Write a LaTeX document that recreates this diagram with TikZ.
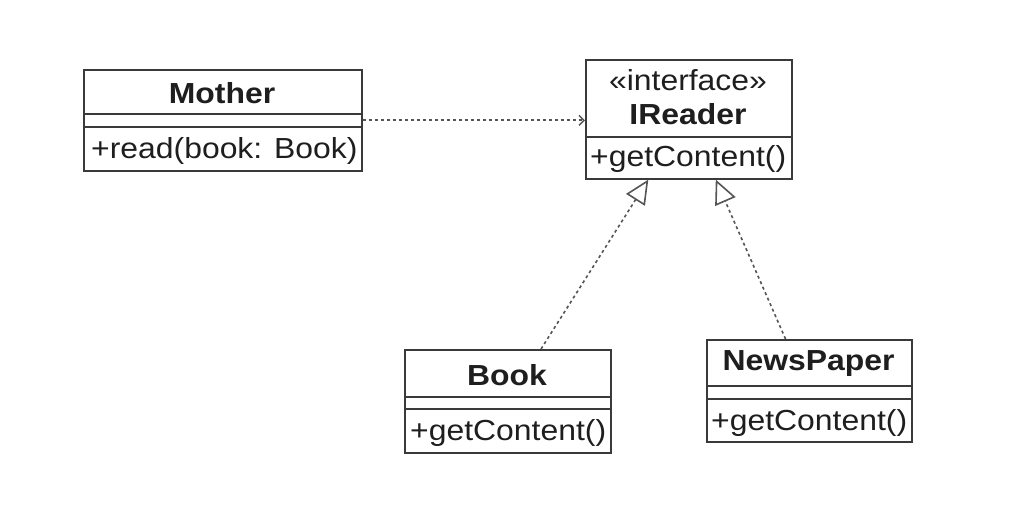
\documentclass[tikz,border=0pt]{standalone}
\usepackage{fontspec}
\setmainfont{Liberation Sans}[FakeStretch=1.1]
\usetikzlibrary{arrows.meta,calc}
\definecolor{boxline}{HTML}{3A3A3A}
\definecolor{dashline}{HTML}{555555}
\definecolor{txt}{HTML}{1E1E1E}
\tikzset{
  umlbox/.style={draw=boxline, line width=1.6pt, fill=white, anchor=north west, inner sep=0pt},
  divider/.style={draw=boxline, line width=1.6pt},
  titletext/.style={font=\fontsize{29}{33}\selectfont\bfseries, text=txt, inner sep=0pt},
  stereotext/.style={font=\fontsize{29}{33}\selectfont, text=txt, inner sep=0pt},
  methodtext/.style={font=\fontsize{29}{33}\selectfont, text=txt, inner sep=0pt, anchor=west},
  realize/.style={draw=dashline, line width=1.6pt, dash pattern=on 3pt off 3pt,
    -{Triangle[open, length=24pt, width=22pt, line width=1.6pt, fill=white]}},
  depend/.style={draw=dashline, line width=1.6pt, dash pattern=on 3pt off 3pt,
    -{Straight Barb[length=5pt, width=10pt, line width=1.4pt]}}
}
\begin{document}
\begin{tikzpicture}[x=1pt, y=-1pt]
\useasboundingbox[fill=white] (0,0) rectangle (1012,508);

% Mother
\node[umlbox, minimum width=278pt, minimum height=101pt] (mother) at (83,69) {};
\draw[divider] (83,114) -- (361,114);
\draw[divider] (83,127) -- (361,127);
\node[titletext] (mothertitle) at (222,93) {Mother};
\node[methodtext] (mothermeth) at (91,151) {+read(book: Book)};

% IReader
\node[umlbox, minimum width=206pt, minimum height=119pt] (ireader) at (585,59) {};
\draw[divider] (585,137) -- (791,137);
\node[stereotext] (irstereo) at (688,80) {«interface»};
\node[titletext] (irtitle) at (688,114) {IReader};
\node[methodtext] (irmeth) at (590,159) {+getContent()};

% Book
\node[umlbox, minimum width=206pt, minimum height=103pt] (book) at (404,349) {};
\draw[divider] (404,397) -- (610,397);
\draw[divider] (404,409) -- (610,409);
\node[titletext] (booktitle) at (507,375) {Book};
\node[methodtext] (bookmeth) at (410,433) {+getContent()};

% NewsPaper
\node[umlbox, minimum width=205pt, minimum height=102pt] (news) at (706,339) {};
\draw[divider] (706,386) -- (911,386);
\draw[divider] (706,399) -- (911,399);
\node[titletext] (newstitle) at (808.5,364) {NewsPaper};
\node[methodtext] (newsmeth) at (711,423) {+getContent()};

% connectors
\draw[depend] (mother.east) -- (ireader.west |- mother.east);
\draw[realize] ($(book.north west)!0.66!(book.north east)$) -- ($(ireader.south west)!0.305!(ireader.south east)$);
\draw[realize] ($(news.north west)!0.385!(news.north east)$) -- ($(ireader.south west)!0.63!(ireader.south east)$);
\end{tikzpicture}
\end{document}
